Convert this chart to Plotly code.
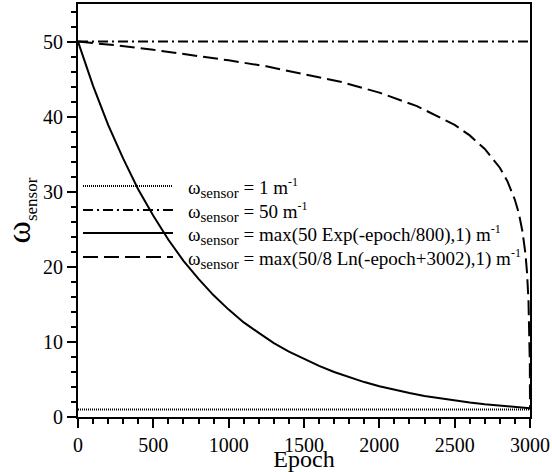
import plotly.graph_objects as go

# ---- data ----
epoch_const = [0, 3000]
omega_1 = [1, 1]
omega_50 = [50, 50]

epoch_exp = [0, 100, 200, 300, 400, 500, 600, 700, 800, 900, 1000, 1100, 1200, 1300,
             1400, 1500, 1600, 1700, 1800, 1900, 2000, 2100, 2200, 2300, 2400, 2500,
             2600, 2700, 2800, 2900, 3000]
omega_exp = [50.0, 44.1, 38.9, 34.4, 30.3, 26.8, 23.6, 20.8, 18.4, 16.2, 14.3, 12.6, 11.2,
             9.85, 8.7, 7.7, 6.8, 6.0, 5.3, 4.65, 4.1, 3.6, 3.2, 2.8, 2.5, 2.2, 1.94, 1.71,
             1.51, 1.33, 1.18]

epoch_ln = [0, 250, 500, 750, 1000, 1250, 1500, 1750, 2000, 2250, 2500, 2600, 2700, 2800,
            2850, 2900, 2925, 2950, 2970, 2980, 2990, 2995, 2998, 2999, 3000]
omega_ln = [50.0, 49.5, 48.9, 48.25, 47.5, 46.7, 45.7, 44.6, 43.2, 41.4, 38.9, 37.5, 35.7,
            33.2, 31.4, 28.9, 27.2, 24.7, 21.7, 19.3, 15.5, 12.2, 8.7, 6.9, 1.0]

x_ticks = [0, 500, 1000, 1500, 2000, 2500, 3000]
y_ticks = [0, 10, 20, 30, 40, 50]

SUB = "<sub><span style='font-size:15px'>sensor</span></sub>"
SUP = "<sup><span style='font-size:12px'>-1</span></sup>"
legend_labels = [
    "ω" + SUB + " = 1 m" + SUP,
    "ω" + SUB + " = 50 m" + SUP,
    "ω" + SUB + " = max(50 Exp(-epoch/800),1) m" + SUP,
    "ω" + SUB + " = max(50/8 Ln(-epoch+3002),1) m" + SUP,
]
y_title = "ω<sub><span style='font-size:17px'>sensor</span></sub>"

FONT = "Times New Roman, Liberation Serif, DejaVu Serif, serif"
dot = "1px,1px"
dashdot = "10px,4px,2px,4px"
dash = "15px,6px"
styles = [(dot, 2), (dashdot, 2), ("solid", 2), (dash, 2)]

fig = go.Figure()
fig.add_trace(go.Scatter(x=epoch_const, y=omega_1, mode="lines",
                         line=dict(color="black", width=2, dash=dot), showlegend=False))
fig.add_trace(go.Scatter(x=epoch_const, y=omega_50, mode="lines",
                         line=dict(color="black", width=2, dash=dashdot), showlegend=False))
fig.add_trace(go.Scatter(x=epoch_exp, y=omega_exp, mode="lines",
                         line=dict(color="black", width=2), showlegend=False))
fig.add_trace(go.Scatter(x=epoch_ln, y=omega_ln, mode="lines",
                         line=dict(color="black", width=2, dash=dash), showlegend=False))

# ---- manual legend (layout, paper coordinates) ----
L, R, T, B = 78, 530, 4, 417
W, H = 552, 472
def px(x):
    return (x - L) / (R - L)
def py(y):
    return (B - y) / (B - T)

rows = [186, 210, 233, 257]
for (d, w), yy, lab in zip(styles, rows, legend_labels):
    fig.add_shape(type="line", xref="paper", yref="paper",
                  x0=px(83), x1=px(173), y0=py(yy), y1=py(yy),
                  line=dict(color="black", width=w, dash=d))
    fig.add_annotation(xref="paper", yref="paper", x=px(186), y=py(yy + 2),
                       xanchor="left", yanchor="middle", showarrow=False,
                       text=lab, font=dict(family=FONT, size=19, color="black"))

fig.update_layout(
    width=W, height=H,
    margin=dict(l=L, r=W - R, t=T, b=H - B, autoexpand=False),
    paper_bgcolor="white", plot_bgcolor="white",
    font=dict(family=FONT, size=20, color="black"),
    xaxis=dict(range=[0, 3000], tickvals=x_ticks,
               ticks="outside", ticklen=9, tickwidth=2, tickcolor="black",
               minor=dict(dtick=100, ticks="outside", ticklen=5, tickwidth=1.5, tickcolor="black"),
               showline=True, linewidth=2, linecolor="black", mirror=True,
               showgrid=False, zeroline=False,
               tickfont=dict(family=FONT, size=20),
               title=dict(text="Epoch", font=dict(family=FONT, size=24), standoff=1)),
    yaxis=dict(range=[0, 55], tickvals=y_ticks,
               ticks="outside", ticklen=9, tickwidth=2, tickcolor="black",
               minor=dict(dtick=2, ticks="outside", ticklen=5, tickwidth=1.5, tickcolor="black"),
               showline=True, linewidth=2, linecolor="black", mirror=True,
               showgrid=False, zeroline=False,
               tickfont=dict(family=FONT, size=20),
               title=dict(text=y_title, font=dict(family=FONT, size=34), standoff=6)),
)

fig.write_html("out.html", config={"displayModeBar": False},
               post_script="document.body.style.margin='0px';")
